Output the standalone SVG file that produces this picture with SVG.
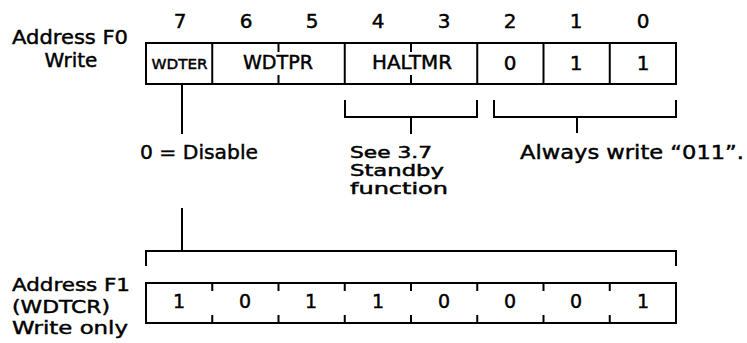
<svg xmlns="http://www.w3.org/2000/svg" width="747" height="343" viewBox="0 0 747 343">
<style>
text{font-family:"DejaVu Sans","Liberation Sans",sans-serif;fill:#000;stroke:#000;stroke-width:0.45}
.lbl{font-size:20px}
.lbl2{font-size:18px}
.bit{font-size:20px;text-anchor:middle}
.val{font-size:20px;text-anchor:middle}
.bval{font-size:19px;text-anchor:middle}
.note{font-size:20px}
.sb{font-size:15px}
.ln{stroke:#000;stroke-width:2;fill:none;stroke-linecap:square}
</style>
<rect width="747" height="343" fill="#fff"/>
<g id="bitnums">
<text class="bit" x="180" y="28">7</text>
<text class="bit" x="246" y="28">6</text>
<text class="bit" x="312" y="28">5</text>
<text class="bit" x="378" y="28">4</text>
<text class="bit" x="444" y="28">3</text>
<text class="bit" x="510" y="28">2</text>
<text class="bit" x="576" y="28">1</text>
<text class="bit" x="643" y="28">0</text>
</g>
<g id="label-f0">
<text class="lbl" x="70" y="44" text-anchor="middle" textLength="116" lengthAdjust="spacingAndGlyphs">Address F0</text>
<text class="lbl" x="71" y="67" text-anchor="middle">Write</text>
</g>
<g id="reg-f0">
<rect class="ln" x="146" y="43" width="530" height="41"/>
<line class="ln" x1="212.25" y1="43" x2="212.25" y2="84"/>
<line class="ln" x1="344.75" y1="43" x2="344.75" y2="84"/>
<line class="ln" x1="477.25" y1="43" x2="477.25" y2="84"/>
<line class="ln" x1="543.5" y1="43" x2="543.5" y2="84"/>
<line class="ln" x1="609.75" y1="43" x2="609.75" y2="84"/>
<line class="ln" x1="278.5" y1="43" x2="278.5" y2="51"/>
<line class="ln" x1="278.5" y1="76" x2="278.5" y2="84"/>
<line class="ln" x1="411" y1="43" x2="411" y2="51"/>
<line class="ln" x1="411" y1="76" x2="411" y2="84"/>
<text x="179.5" y="69" font-size="14" text-anchor="middle" textLength="56" lengthAdjust="spacingAndGlyphs">WDTER</text>
<text x="278" y="69" font-size="19" text-anchor="middle" textLength="70" lengthAdjust="spacingAndGlyphs">WDTPR</text>
<text x="412" y="69" font-size="19" text-anchor="middle" textLength="80" lengthAdjust="spacingAndGlyphs">HALTMR</text>
<text class="val" x="510" y="70">0</text>
<text class="val" x="576" y="70">1</text>
<text class="val" x="643" y="70">1</text>
</g>
<g id="connectors">
<line class="ln" x1="182" y1="84" x2="182" y2="133"/>
<line class="ln" x1="182" y1="209" x2="182" y2="251"/>
<polyline class="ln" points="146,265 146,251 676,251 676,265"/>
<polyline class="ln" points="345,101 345,117 477,117 477,101"/>
<line class="ln" x1="411" y1="117" x2="411" y2="133"/>
<polyline class="ln" points="494,101 494,117 676,117 676,101"/>
<line class="ln" x1="577" y1="117" x2="577" y2="132" stroke-width="1.2"/>
</g>
<g id="note-disable">
<text class="note" x="140" y="159" textLength="118" lengthAdjust="spacingAndGlyphs">0 = Disable</text>
</g>
<g id="note-standby">
<text class="note sb" x="350" y="158" textLength="82" lengthAdjust="spacingAndGlyphs">See 3.7</text>
<text class="note sb" x="350" y="176" textLength="94" lengthAdjust="spacingAndGlyphs">Standby</text>
<text class="note sb" x="350" y="194" textLength="98" lengthAdjust="spacingAndGlyphs">function</text>
</g>
<g id="note-always">
<text class="note" x="520" y="159" textLength="224" lengthAdjust="spacingAndGlyphs">Always write “011”.</text>
</g>
<g id="label-f1">
<text class="lbl2" x="12" y="291" textLength="118" lengthAdjust="spacingAndGlyphs">Address F1</text>
<text class="lbl2" x="12" y="312.5" textLength="98" lengthAdjust="spacingAndGlyphs">(WDTCR)</text>
<text class="lbl2" x="12" y="334" textLength="116" lengthAdjust="spacingAndGlyphs">Write only</text>
</g>
<g id="reg-f1">
<rect class="ln" x="146" y="283" width="530" height="40"/>
<path class="ln" d="M212.25,283v7M278.5,283v7M344.75,283v7M411,283v7M477.25,283v7M543.5,283v7M609.75,283v7M212.25,323v-7M278.5,323v-7M344.75,323v-7M411,323v-7M477.25,323v-7M543.5,323v-7M609.75,323v-7"/>
<text class="bval" x="179" y="308">1</text>
<text class="bval" x="245" y="308">0</text>
<text class="bval" x="311" y="308">1</text>
<text class="bval" x="378" y="308">1</text>
<text class="bval" x="444" y="308">0</text>
<text class="bval" x="510" y="308">0</text>
<text class="bval" x="576" y="308">0</text>
<text class="bval" x="643" y="308">1</text>
</g>
</svg>
